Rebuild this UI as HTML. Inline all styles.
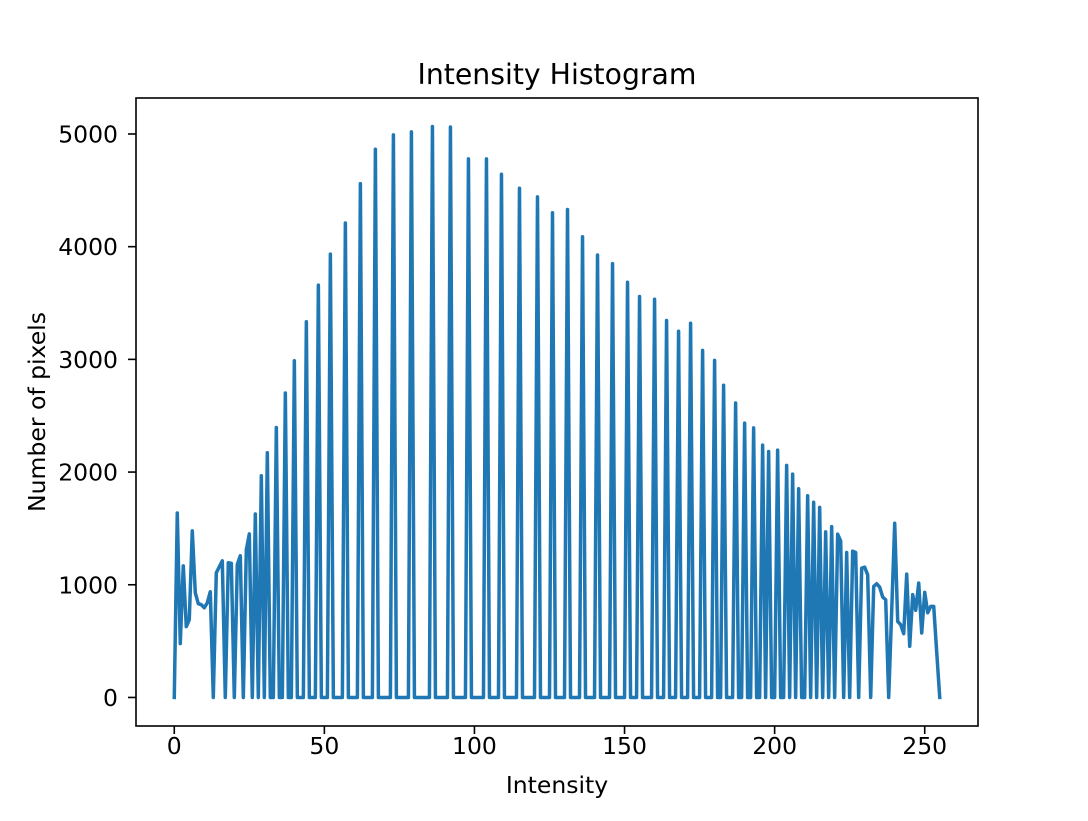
<!DOCTYPE html>
<html><head><meta charset="utf-8">
<style>
html,body{margin:0;padding:0;background:#fff;}
svg text{font-family:"DejaVu Sans","Liberation Sans",sans-serif;fill:#000;}
</style></head>
<body>
<svg id="chart" width="1088" height="816" xmlns="http://www.w3.org/2000/svg">
<rect x="0" y="0" width="1088" height="816" fill="#fff"/>
<text x="557" y="84" font-size="28.3" text-anchor="middle">Intensity Histogram</text>
<text x="557" y="793" font-size="23.5" text-anchor="middle">Intensity</text>
<text x="0" y="0" font-size="23.5" text-anchor="middle" transform="translate(45,412) rotate(-90)">Number of pixels</text>
<g id="xticks"></g>
<g id="yticks"></g>
<path id="series" fill="none" stroke="#1f77b4" stroke-width="3.5" stroke-linejoin="round" stroke-linecap="square"/>
<rect x="136" y="98" width="842" height="628" fill="none" stroke="#000" stroke-width="1.6"/>
</svg>
<script>
const peakBins = [0,1,2,3,4,5,6,7,8,9,10,11,12,14,15,16,18,19,21,22,24,25,27,29,31,34,37,40,44,48,52,57,62,67,73,79,86,92,98,104,109,115,121,126,131,136,141,146,151,155,160,164,168,172,176,180,183,187,190,193,196,198,201,204,206,208,211,213,215,217,219,221,222,224,226,227,229,230,231,233,234,235,236,237,239,240,241,242,243,244,245,246,247,248,249,250,251,252,253,254];
const peakCounts = [0,1637,478,1168,628,690,1478,929,832,823,796,840,938,1106,1159,1212,1195,1190,1180,1257,1310,1451,1628,1967,2171,2395,2702,2988,3334,3659,3934,4210,4559,4864,4992,5019,5066,5062,4779,4779,4643,4519,4442,4301,4330,4088,3926,3850,3684,3558,3534,3345,3250,3321,3080,2991,2770,2613,2434,2392,2239,2183,2195,2059,1982,1852,1790,1732,1687,1469,1516,1449,1389,1286,1298,1286,1147,1156,1088,985,1009,979,891,867,770,1546,675,646,566,1094,454,912,773,1015,572,932,752,808,808,400];
const xTickValues = [0,50,100,150,200,250];
const yTickValues = [0,1000,2000,3000,4000,5000];

const counts = new Array(256).fill(0);
for (let i = 0; i < peakBins.length; i++) counts[peakBins[i]] = peakCounts[i];

const L = 136, R = 978, T = 98, B = 726;
const xmin = -12.75, xmax = 267.75;
const ymaxData = Math.max(...counts);
const ymin = -0.05 * ymaxData, ymax = 1.05 * ymaxData;
const xs = v => L + (v - xmin) / (xmax - xmin) * (R - L);
const ys = v => B - (v - ymin) / (ymax - ymin) * (B - T);
const NS = "http://www.w3.org/2000/svg";

let d = "";
counts.forEach((c, i) => { d += (i ? "L" : "M") + xs(i).toFixed(2) + "," + ys(c).toFixed(2); });
document.getElementById("series").setAttribute("d", d);

const xg = document.getElementById("xticks");
xTickValues.forEach(v => {
  const x = xs(v);
  const ln = document.createElementNS(NS, "line");
  ln.setAttribute("x1", x); ln.setAttribute("x2", x);
  ln.setAttribute("y1", B); ln.setAttribute("y2", B + 8);
  ln.setAttribute("stroke", "#000"); ln.setAttribute("stroke-width", "1.6");
  
  
  xg.appendChild(ln);
  const t = document.createElementNS(NS, "text");
  t.setAttribute("x", x); t.setAttribute("y", B + 28);
  t.setAttribute("font-size", "23.5"); t.setAttribute("text-anchor", "middle");
  t.textContent = v;
  
  
  xg.appendChild(t);
});
const yg = document.getElementById("yticks");
yTickValues.forEach(v => {
  const y = ys(v);
  const ln = document.createElementNS(NS, "line");
  ln.setAttribute("x1", L - 8); ln.setAttribute("x2", L);
  ln.setAttribute("y1", y); ln.setAttribute("y2", y);
  ln.setAttribute("stroke", "#000"); ln.setAttribute("stroke-width", "1.6");
  
  
  yg.appendChild(ln);
  const t = document.createElementNS(NS, "text");
  t.setAttribute("x", L - 18); t.setAttribute("y", y + 8.5);
  t.setAttribute("font-size", "23.5"); t.setAttribute("text-anchor", "end");
  t.textContent = v;
  
  
  yg.appendChild(t);
});
</script>
</body></html>
